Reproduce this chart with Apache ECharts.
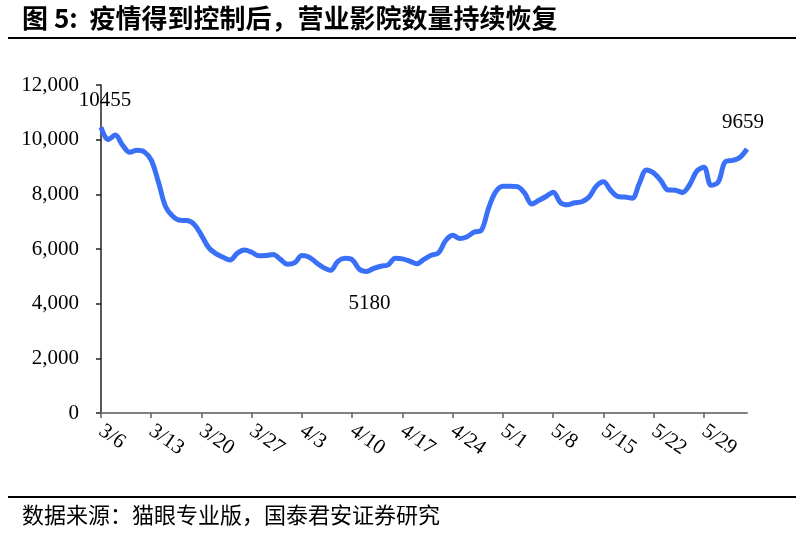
<!DOCTYPE html>
<html>
<head>
<meta charset="utf-8">
<script src="https://cdn.jsdelivr.net/npm/echarts@6/dist/echarts.min.js"></script>
<style>html,body{margin:0;padding:0;background:#fff;}#c{width:808px;height:533px;}</style>
</head>
<body>
<div id="c"></div>
<script>
// Categories: daily dates from 3/6 to 6/4
const startMonth = 3, startDay = 6, numDays = 91;
const categories = [];
(function(){
  const dim = {3:31,4:30,5:31,6:30};
  let m = startMonth, d = startDay;
  for (let i = 0; i < numDays; i++) {
    categories.push(m + '/' + d);
    d++; if (d > dim[m]) { d = 1; m++; }
  }
})();
// Number of cinemas in operation
const cinemas = [
  10455, 10000, 10170, 9800, 9540, 9610, 9560, 9250, 8450, 7550,
  7200, 7050, 7040, 6900, 6500, 6050, 5830, 5700, 5600, 5850,
  5960, 5880, 5750, 5760, 5800, 5620, 5440, 5500, 5760, 5700,
  5500, 5320, 5220, 5550, 5660, 5610, 5260, 5180, 5290, 5370,
  5420, 5660, 5640, 5560, 5460, 5620, 5770, 5850, 6300, 6500,
  6380, 6450, 6620, 6690, 7500, 8100, 8300, 8300, 8280, 8050,
  7650, 7780, 7920, 8080, 7700, 7620, 7690, 7730, 7900, 8300,
  8460, 8150, 7920, 7900, 7860, 8400, 8890, 8780, 8500, 8160,
  8150, 8070, 8350, 8850, 8990, 8330, 8450, 9200, 9240, 9350,
  9659
];
const yTicks = [0, 2000, 4000, 6000, 8000, 10000, 12000];
const xTickLabels = ['3/6','3/13','3/20','3/27','4/3','4/10','4/17','4/24','5/1','5/8','5/15','5/22','5/29'];
const labelled = {0: 'top', 37: 'bottom', 90: 'top'};

const titleText = '图 5:  疫情得到控制后，营业影院数量持续恢复';
const sourceText = '数据来源：猫眼专业版，国泰君安证券研究';

const serif = '"Liberation Serif","Times New Roman",serif';
const cjk = '"Noto Sans CJK SC","Noto Sans",sans-serif';

const seriesData = cinemas.map((v, i) => {
  if (labelled[i]) {
    const pos = labelled[i];
    return {
      value: v,
      label: {
        show: true, position: pos,
        distance: pos === 'bottom' ? 22 : (i === 0 ? 16 : 16),
        offset: i === 0 ? [4, 0] : (i === 90 ? [-4, 0] : [3, 0]),
        formatter: String(v),
        fontFamily: serif, fontSize: 21, color: '#000'
      }
    };
  }
  return v;
});

const chart = echarts.init(document.getElementById('c'), null, {renderer: 'canvas'});
chart.setOption({
  backgroundColor: '#fff',
  animation: false,
  grid: {left: 101, right: 61, top: 85, bottom: 120, containLabel: false},
  xAxis: {
    type: 'category',
    data: categories,
    boundaryGap: false,
    axisLine: {lineStyle: {color: '#808080', width: 2}},
    axisTick: {
      show: true, length: 5, lineStyle: {color: '#606060', width: 1.5},
      interval: (idx, val) => xTickLabels.indexOf(val) >= 0
    },
    axisLabel: {
      interval: (idx, val) => xTickLabels.indexOf(val) >= 0,
      rotate: -35, margin: 16,
      fontFamily: serif, fontSize: 21, color: '#000'
    },
    splitLine: {show: false}
  },
  yAxis: {
    type: 'value',
    min: yTicks[0], max: yTicks[yTicks.length - 1], interval: 2000,
    axisLine: {show: true, lineStyle: {color: '#222', width: 1.5}},
    axisTick: {show: true, inside: false, length: 5, lineStyle: {color: '#222', width: 1.5}},
    axisLabel: {
      margin: 22,
      fontFamily: serif, fontSize: 21, color: '#000',
      formatter: v => v.toLocaleString('en-US')
    },
    splitLine: {show: false}
  },
  series: [{
    type: 'line',
    data: seriesData,
    smooth: 0.35,
    symbol: 'circle',
    symbolSize: 0,
    showSymbol: true,
    showAllSymbol: true,
    lineStyle: {color: '#3a6ff7', width: 5},
    itemStyle: {color: '#3a6ff7'},
    label: {show: false},
    z: 3
  }],
  graphic: [
    {type: 'text', left: 22, top: 5, style: {text: titleText, fontFamily: cjk, fontWeight: 'bold', fontSize: 26, fill: '#000'}},
    {type: 'rect', shape: {x: 8, y: 37, width: 788, height: 2}, style: {fill: '#000'}},
    {type: 'rect', shape: {x: 8, y: 496, width: 788, height: 2}, style: {fill: '#000'}},
    {type: 'text', left: 22, top: 504, style: {text: sourceText, fontFamily: cjk, fontSize: 22, fill: '#000'}}
  ]
});
</script>
</body>
</html>
